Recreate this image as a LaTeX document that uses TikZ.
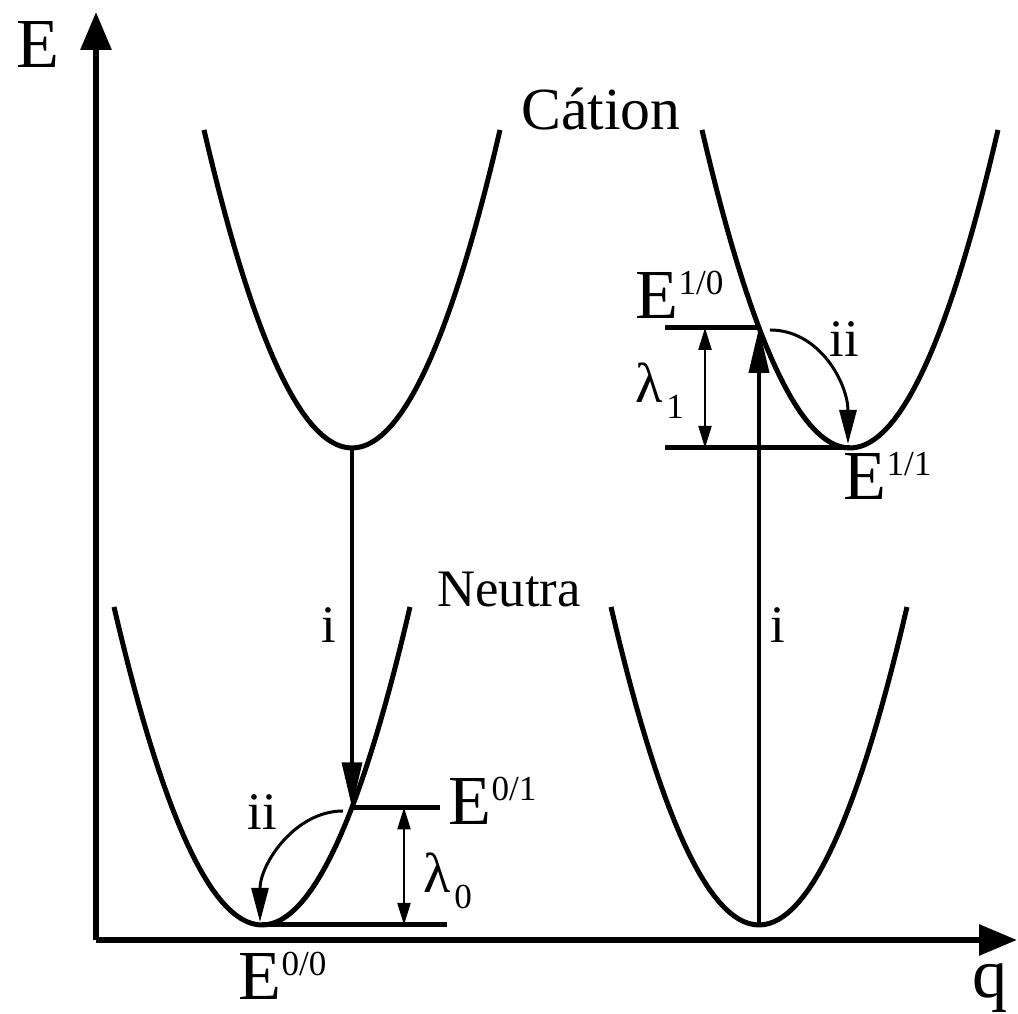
\documentclass[tikz,border=0pt]{standalone}
\usepackage{fontspec}
\setmainfont{Liberation Serif}
\usetikzlibrary{arrows.meta}
\newcommand{\lev}[1]{E\raisebox{7pt}{\fontsize{10}{10}\selectfont #1}}
\newcommand{\lam}[1]{λ\kern1pt\raisebox{-4.3pt}{\fontsize{10}{10}\selectfont #1}}
\newcommand{\parab}[2]{\draw[curve] plot[domain=-1.48:1.48,samples=61] ({#1+\x},{#2+1.452*\x*\x});}
\tikzset{
  curve/.style={line width=0.05cm},
  level/.style={line width=0.05cm},
  axis/.style={line width=0.06cm, -{Triangle[length=0.38cm,width=0.3cm]}},
  trans/.style={line width=0.035cm, -{Triangle[length=0.45cm,width=0.2cm]}},
  relax/.style={line width=0.03cm, -{Triangle[length=0.34cm,width=0.17cm]}},
  gap/.style={line width=0.02cm, {Triangle[length=0.22cm,width=0.13cm]}-{Triangle[length=0.22cm,width=0.13cm]}},
  lvl/.style={font=\fontsize{20}{22}\selectfont, inner sep=0pt, anchor=base west},
  lbl/.style={font=\fontsize{15}{17}\selectfont, inner sep=0pt, anchor=base}
}
\begin{document}
\begin{tikzpicture}
\useasboundingbox (0,0) rectangle (10.18,10.14);
% axes
\coordinate (O) at (0.96,0.74);
\draw[axis] (O) -- (0.96,10.02) coordinate (Etop);
\draw[axis] (O) -- (10.17,0.74) coordinate (qend);
\node[font=\fontsize{20}{22}\selectfont, inner sep=0pt, anchor=base] (Eax) at (0.38,9.46) {E};
\node[font=\fontsize{20}{22}\selectfont, inner sep=0pt, anchor=base] (qax) at (9.90,0.16) {q};
% potential curves
\parab{3.52}{5.66}
\parab{2.62}{0.89}
\parab{8.50}{5.66}
\parab{7.59}{0.89}
\coordinate (CL) at (3.52,5.66);
\coordinate (NL) at (2.62,0.89);
\coordinate (CR) at (8.50,5.66);
\coordinate (NR) at (7.59,0.89);
\coordinate (A01) at (3.52,2.066);
\coordinate (A10) at (7.59,6.862);
\node[font=\fontsize{17}{19}\selectfont, inner sep=0pt, anchor=base] (cat) at (6.01,8.84) {Cátion};
\node[lbl] (neu) at (5.09,4.07) {Neutra};
% levels
\coordinate (L00) at (4.47,0.89);
\coordinate (L01) at (4.40,2.066);
\coordinate (L10) at (6.65,6.862);
\coordinate (L11) at (6.65,5.66);
\draw[level] (NL) -- (L00);
\draw[level] (A01) -- (L01);
\draw[level] (L10) -- (A10);
\draw[level] (L11) -- (CR);
\draw[gap] (4.04,0.89) -- (4.04,2.066);
\draw[gap] (7.05,5.66) -- (7.05,6.862);
% transitions
\draw[trans] (CL) -- (A01);
\draw[trans] (NR) -- (A10);
\draw[relax] (7.70,6.84) .. controls (8.20,6.84) and (8.48,6.30) .. (8.48,5.70);
\draw[relax] (3.43,2.03) .. controls (2.95,2.03) and (2.60,1.50) .. (2.60,0.92);
\node[lbl] (iL) at (3.29,3.71) {i};
\node[lbl] (iR) at (7.78,3.71) {i};
\node[lbl] (iiL) at (2.62,1.84) {ii};
\node[lbl] (iiR) at (8.44,6.57) {ii};
% labels
\node[lvl] (e00) at (2.38,0.14) {\lev{0/0}};
\node[lvl] (e01) at (4.48,1.89) {\lev{0/1}};
\node[lvl] (e10) at (6.35,6.95) {\lev{1/0}};
\node[lvl] (e11) at (8.43,5.14) {\lev{1/1}};
\node[lvl, font=\fontsize{16}{18}\selectfont] (lam1) at (6.35,6.11) {\lam{1}};
\node[lvl, font=\fontsize{16}{18}\selectfont] (lam0) at (4.23,1.21) {\lam{0}};
\end{tikzpicture}
\end{document}
